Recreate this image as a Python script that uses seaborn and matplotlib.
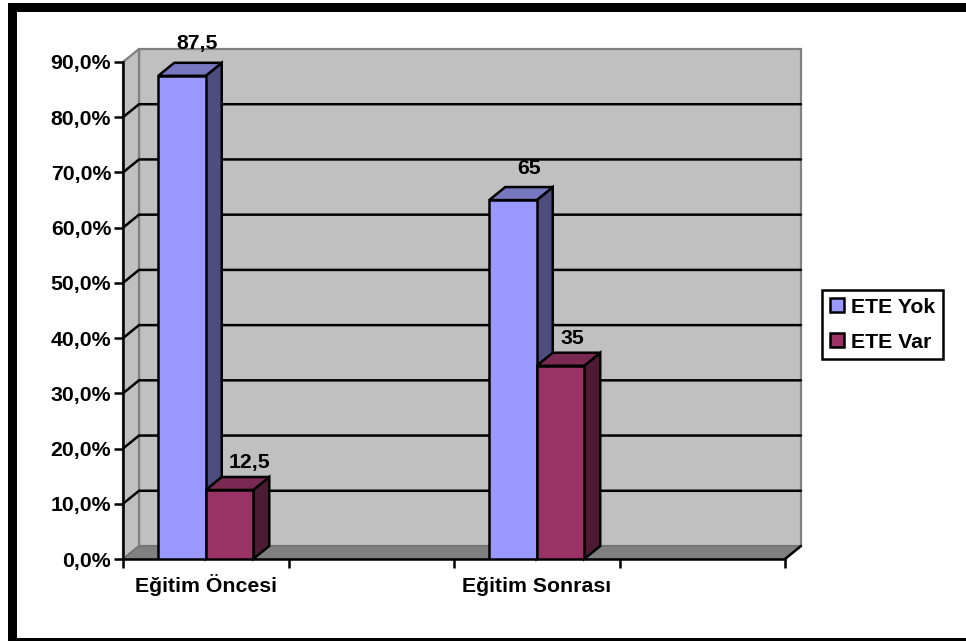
import matplotlib
matplotlib.use("Agg")
import matplotlib.pyplot as plt
from matplotlib.lines import Line2D
from matplotlib.patches import Polygon, Rectangle
from matplotlib.ticker import FuncFormatter
import pandas as pd
import seaborn as sns

# Chart values
categories = ["Eğitim Öncesi", " ", "Eğitim Sonrası", "  "]
period = ["Eğitim Öncesi", "Eğitim Sonrası"]
ete_yok = [87.5, 65]
ete_var = [12.5, 35]
series_names = ["ETE Yok", "ETE Var"]

# Face colours: front, top, side
front_colors = ["#9999FF", "#993366"]
top_colors = ["#7777C0", "#7A2952"]
side_colors = ["#4D4D80", "#4D1A33"]
wall_color = "#C0C0C0"
floor_color = "#808080"
edge_gray = "#808080"

# Label nudges (points) for each series and period
label_dx = [[10.5, 11.5], [14, 8.5]]
label_dy = [[23, 23], [19.5, 19.5]]

W, H = 966, 641
sns.set_style("white")
plt.rcParams["font.family"] = ["Liberation Sans", "DejaVu Sans"]
plt.rcParams["font.weight"] = "bold"
plt.rcParams["text.color"] = "black"
plt.rcParams["xtick.color"] = "black"
plt.rcParams["ytick.color"] = "black"
FS = 15.3
LW = 1.8

fig = plt.figure(figsize=(W / 100, H / 100), dpi=100, facecolor="white")
left, right, top, bottom = 123, 785, 62, 559
ax = fig.add_axes([left / W, 1 - bottom / H, (right - left) / W, (bottom - top) / H])
ax.patch.set_visible(False)

df = pd.DataFrame({
    "period": period * 2,
    "series": [series_names[0]] * 2 + [series_names[1]] * 2,
    "value": ete_yok + ete_var,
})
sns.barplot(
    data=df, x="period", y="value", hue="series", order=categories,
    hue_order=series_names, palette=front_colors, width=95 / 165.5, gap=0,
    saturation=1, edgecolor="black", linewidth=LW, legend=False, ax=ax,
)
ax.set_xlim(-0.5, 3.5)
ax.set_ylim(0, 90)
ax.set_xlabel("")
ax.set_ylabel("")

# Depth of the box, in data units
dx = 16 / 165.5
dy = 13 / (bottom - top) * 90
x0, x1 = -0.5, 3.5


def face(points, color, z, edge=None, lw=0.0):
    ax.add_patch(Polygon(points, closed=True, facecolor=color,
                         edgecolor=edge if edge else color, linewidth=lw,
                         joinstyle="miter", clip_on=False, zorder=z))


# Walls and floor
face([(x0 + dx, dy), (x1 + dx, dy), (x1 + dx, 90 + dy), (x0 + dx, 90 + dy)],
     wall_color, 0.1, edge_gray, 1.6)
face([(x0, 0), (x0 + dx, dy), (x0 + dx, 90 + dy), (x0, 90)], wall_color, 0.2, edge_gray, 1.6)
face([(x0, 0), (x1, 0), (x1 + dx, dy), (x0 + dx, dy)], floor_color, 0.3, "#707070", 1.0)

# Gridlines run along the back wall and down the side wall
for v in range(10, 90, 10):
    ax.plot([x0, x0 + dx, x1 + dx], [v, v + dy, v + dy], color="black", lw=LW,
            clip_on=False, zorder=0.5, solid_joinstyle="miter")
ax.plot([x1, x1 + dx], [0, dy], color="black", lw=LW, clip_on=False, zorder=0.6)

# Extruded top and side faces for each bar, with value labels
for i, container in enumerate(ax.containers):
    for j, bar in enumerate(container):
        xa, w, h = bar.get_x(), bar.get_width(), bar.get_height()
        xb = xa + w
        z = 3 + 2 * i
        bar.set_zorder(z + 1)
        bar.set_joinstyle("miter")
        face([(xb, 0), (xb + dx, dy), (xb + dx, h + dy), (xb, h)], side_colors[i], z, "black", LW)
        face([(xa, h), (xb, h), (xb + dx, h + dy), (xa + dx, h + dy)], top_colors[i], z, "black", LW)
        ax.annotate(f"{h:g}".replace(".", ","), (xa + w / 2, h),
                    xytext=(label_dx[i][j], label_dy[i][j]), textcoords="offset points",
                    ha="center", va="center", fontsize=FS, fontweight="bold",
                    color="black", zorder=10, annotation_clip=False)

# Axes, ticks and labels
sns.despine(ax=ax, top=True, right=True)
for name in ("left", "bottom"):
    ax.spines[name].set_linewidth(LW)
    ax.spines[name].set_color("black")
    ax.spines[name].set_zorder(2)
ax.set_yticks(range(0, 100, 10))
ax.yaxis.set_major_formatter(FuncFormatter(lambda v, _: f"{v:.1f}%".replace(".", ",")))
ax.tick_params(axis="y", length=6.5, width=LW, pad=2, labelsize=FS, color="black",
               labelcolor="black", left=True)
ax.set_xticks([0, 2], [categories[0], categories[2]])
ax.set_xticks([-0.5, 0.5, 1.5, 2.5, 3.5], minor=True)
# Baseline alignment keeps both category names on one line despite the Ö
ax.tick_params(axis="x", which="major", length=0, pad=24, labelsize=FS, labelcolor="black",
               bottom=False)
ax.tick_params(axis="x", which="minor", length=6.5, width=LW, color="black", bottom=True)
for lab in ax.get_xticklabels():
    lab.set_verticalalignment("baseline")
for lab in ax.get_xticklabels() + ax.get_yticklabels():
    lab.set_fontweight("bold")

# Legend
handles = [
    Line2D([], [], linestyle="none", marker="s", markersize=10, markerfacecolor=c,
           markeredgecolor="black", markeredgewidth=LW)
    for c in front_colors
]
leg = fig.legend(
    handles, series_names, loc="upper left", bbox_to_anchor=(822 / W, 1 - 290 / H),
    bbox_transform=fig.transFigure, borderaxespad=0, fancybox=False, framealpha=1,
    edgecolor="black", facecolor="white", fontsize=FS, labelcolor="black", handlelength=0.7,
    handletextpad=0.3, labelspacing=0.75, borderpad=0.36,
)
leg.get_frame().set_linewidth(LW)
for t in leg.get_texts():
    t.set_fontweight("bold")

# Heavy black frame on the top, left and bottom of the sheet
for x, y, w, h in [(8, 3, W - 8, 9), (8, 3, 9, H - 3), (8, 638, W - 8, 3)]:
    fig.add_artist(Rectangle((x / W, 1 - (y + h) / H), w / W, h / H, transform=fig.transFigure,
                             facecolor="black", edgecolor="none"))

fig.savefig("out.png", dpi=100)
